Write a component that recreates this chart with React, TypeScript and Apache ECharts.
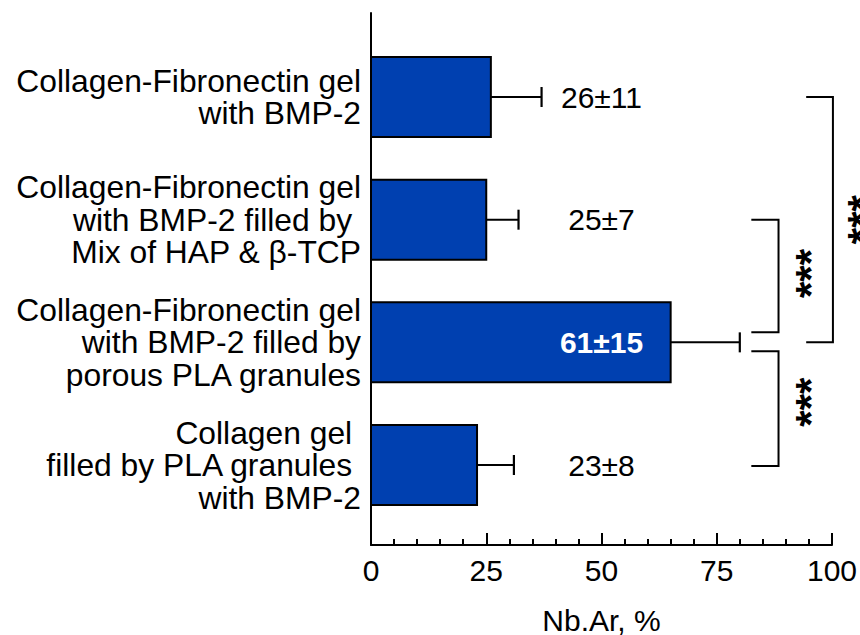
import React, { useEffect, useRef } from "react";
import * as echarts from "echarts";

// ---- data ----
const categories: string[] = [
  "Collagen-Fibronectin gel\nwith BMP-2",
  "Collagen-Fibronectin gel\nwith BMP-2 filled by \nMix of HAP & β-TCP",
  "Collagen-Fibronectin gel\nwith BMP-2 filled by\nporous PLA granules",
  "Collagen gel \nfilled by PLA granules \nwith BMP-2",
];
const means: number[] = [26, 25, 65, 23];
const errors: number[] = [11, 7, 15, 8];
const valueLabels: string[] = ["26±11", "25±7", "61±15", "23±8"];
const xMin = 0;
const xMax = 100;
const xInterval = 25;
const axisName = "Nb.Ar, %";
// pairwise comparisons (category index pairs) and their significance marks
const comparisons: number[][] = [
  [0, 2],
  [1, 2],
  [2, 3],
];
const significance: string[] = ["***", "***", "***"];

// ---- layout / style (not data) ----
const FONT = "'Liberation Sans', Arial, Helvetica, sans-serif";
const BAR_COLOR = "#0040b0";
const LABEL_X = 50;
const bracketLayout = [
  { x0: 94.4, x1: 100.2, dy0: 0, dy1: 0, starX: 106.6, starDy: 0 },
  { x0: 82.5, x1: 88.4, dy0: 0, dy1: -10, starX: 95.3, starDy: -2.5 },
  { x0: 82.5, x1: 88.4, dy0: 9, dy1: 1, starX: 95.3, starDy: -6.5 },
];

export default function App() {
  const ref = useRef<HTMLDivElement>(null);

  useEffect(() => {
    if (!ref.current) return;
    const chart = echarts.init(ref.current, null, { renderer: "svg" });

    const barData = categories.map((_, i) => [i, means[i], errors[i]]);
    const bracketData = comparisons.map((c, k) => [k, c[0], c[1]]);

    const option: any = {
      animation: false,
      backgroundColor: "#ffffff",
      grid: {
        left: 371,
        right: 28,
        top: 13,
        bottom: 90,
        containLabel: false,
        outerBoundsMode: "none",
      },
      xAxis: {
        type: "value",
        min: xMin,
        max: xMax,
        interval: xInterval,
        name: axisName,
        nameLocation: "middle",
        nameGap: 60,
        nameTextStyle: { fontSize: 30, color: "#000", fontFamily: FONT },
        axisLine: { show: true, onZero: false, lineStyle: { color: "#000", width: 2 } },
        axisTick: { show: true, inside: true, length: 12, lineStyle: { color: "#000", width: 2 } },
        minorTick: { show: true, splitNumber: 5, length: 6, lineStyle: { color: "#000", width: 2 } },
        axisLabel: { fontSize: 30, color: "#000", fontFamily: FONT, margin: 10 },
        splitLine: { show: false },
        minorSplitLine: { show: false },
      },
      yAxis: {
        type: "value",
        inverse: true,
        min: -0.685,
        max: 3.652,
        axisLine: { show: true, onZero: false, lineStyle: { color: "#000", width: 2 } },
        axisTick: { show: false },
        axisLabel: { show: false },
        splitLine: { show: false },
      },
      series: [
        {
          type: "custom",
          clip: false,
          encode: { x: 1, y: 0 },
          data: barData,
          renderItem: (params: any, api: any) => {
            const i = api.value(0);
            const v = api.value(1);
            const e = api.value(2);
            const base = api.coord([0, i]);
            const end = api.coord([v, i]);
            const errEnd = api.coord([v + e, i]);
            const band = api.size([0, 1])[1];
            const h = band * 0.652;
            const cy = base[1];
            const lp = api.coord([LABEL_X, i]);
            const inside = v > LABEL_X + 8;
            return {
              type: "group",
              children: [
                { type: "line", shape: { x1: end[0], y1: cy, x2: errEnd[0], y2: cy }, style: { stroke: "#000", lineWidth: 2 } },
                { type: "line", shape: { x1: errEnd[0], y1: cy - 10, x2: errEnd[0], y2: cy + 10 }, style: { stroke: "#000", lineWidth: 2.2 } },
                { type: "rect", shape: { x: base[0], y: cy - h / 2, width: end[0] - base[0], height: h }, style: { fill: BAR_COLOR, stroke: "#000", lineWidth: 2 } },
                {
                  type: "text",
                  style: {
                    text: valueLabels[i], x: lp[0], y: cy, align: "center", verticalAlign: "middle",
                    fontSize: 30, fontFamily: FONT, fontWeight: inside ? "bold" : "normal", fill: inside ? "#ffffff" : "#000000",
                  },
                },
                {
                  type: "text",
                  style: {
                    text: categories[i], x: base[0] - 10, y: cy, align: "right", verticalAlign: "middle",
                    fontSize: 31.8, lineHeight: 32.5, fontFamily: FONT, fill: "#000000",
                  },
                },
              ],
            };
          },
        },
        {
          type: "custom",
          clip: false,
          encode: { y: [1, 2] },
          data: bracketData,
          renderItem: (params: any, api: any) => {
            const k = api.value(0);
            const a = api.value(1);
            const b = api.value(2);
            const L = bracketLayout[k];
            const pa0 = api.coord([L.x0, a]);
            const pa1 = api.coord([L.x1, a]);
            const pb1 = api.coord([L.x1, b]);
            const ya = pa0[1] + L.dy0;
            const yb = pb1[1] + L.dy1;
            const sp = api.coord([L.starX, (a + b) / 2]);
            return {
              type: "group",
              children: [
                {
                  type: "polyline",
                  shape: { points: [[pa0[0], ya], [pa1[0], ya], [pa1[0], yb], [pa0[0], yb]] },
                  style: { stroke: "#000", lineWidth: 2, fill: "none" },
                },
                {
                  type: "text",
                  x: sp[0],
                  y: (ya + yb) / 2 + L.starDy,
                  rotation: Math.PI / 2,
                  style: {
                    text: significance[k], x: 0, y: 0, align: "center", verticalAlign: "middle",
                    fontSize: 42, fontWeight: "bold", fontFamily: FONT, fill: "#000",
                  },
                },
              ],
            };
          },
        },
      ],
    };

    chart.setOption(option);
    return () => chart.dispose();
  }, []);

  return (
    <div
      ref={ref}
      style={{ position: "fixed", left: 0, top: 0, width: 860, height: 635, background: "#fff" }}
    />
  );
}
